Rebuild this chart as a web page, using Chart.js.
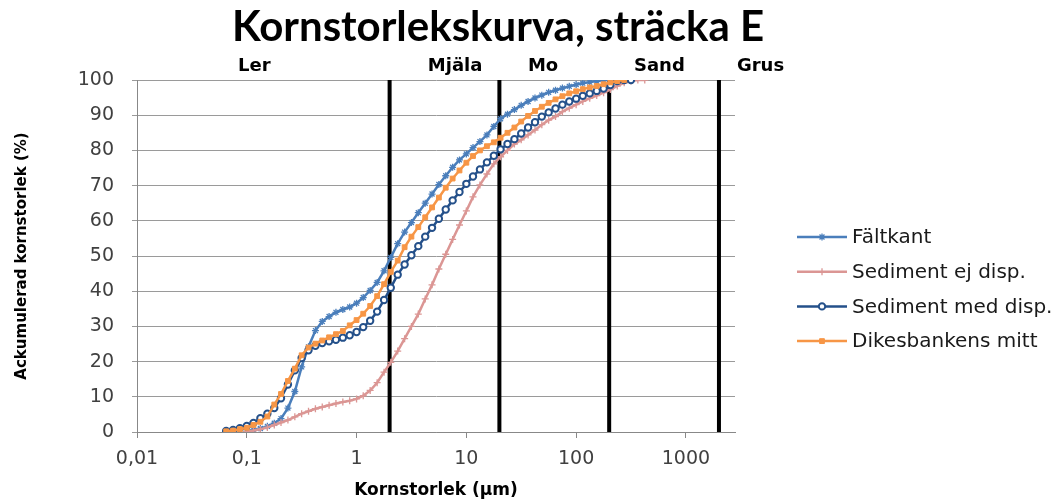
<!DOCTYPE html>
<html>
<head>
<meta charset="utf-8">
<title>Kornstorlekskurva, sträcka E</title>
<script src="https://cdn.jsdelivr.net/npm/chart.js@4.4.1/dist/chart.umd.min.js"></script>
<style>
  html, body { margin: 0; padding: 0; background: #fff; }
</style>
</head>
<body>
<canvas id="chart" width="1064" height="504"></canvas>
<script>
// Kornstorlek (µm) - gemensamma storleksklasser för alla kurvor
const sizes = [
  0.0649, 0.0750, 0.0866, 0.100, 0.115, 0.133, 0.154, 0.178, 0.205, 0.237,
  0.274, 0.316, 0.365, 0.422, 0.487, 0.562, 0.649, 0.750, 0.866, 1.00,
  1.15, 1.33, 1.54, 1.78, 2.05, 2.37, 2.74, 3.16, 3.65, 4.22,
  4.87, 5.62, 6.49, 7.50, 8.66, 10.0, 11.5, 13.3, 15.4, 17.8,
  20.5, 23.7, 27.4, 31.6, 36.5, 42.2, 48.7, 56.2, 64.9, 75.0,
  86.6, 100, 115, 133, 154, 178, 205, 237, 274, 316,
  365, 422
];

// Ackumulerad andel (%) per storleksklass, null = ingen mätpunkt
const faltkant = [
  null, null, null, 0.2, 0.6, 1.0, 1.6, 2.5, 3.8, 6.8,
  11.5, 18.5, 24.2, 28.8, 31.4, 32.8, 34.0, 34.8, 35.5, 36.6,
  38.2, 40.2, 42.5, 45.8, 49.6, 53.5, 56.8, 59.5, 62.3, 65.0,
  67.6, 70.3, 72.8, 75.2, 77.3, 79.0, 80.8, 82.5, 84.4, 86.8,
  89.0, 90.3, 91.6, 92.8, 93.9, 94.9, 95.7, 96.5, 97.1, 97.7,
  98.2, 98.7, 99.1, 99.4, 99.7, 99.9, 100, null, null, null,
  null, null
];
const sedimentEjDisp = [
  null, null, null, 0.1, 0.4, 0.8, 1.3, 2.0, 2.7, 3.4,
  4.3, 5.2, 5.9, 6.6, 7.1, 7.6, 8.1, 8.5, 8.9, 9.4,
  10.3, 11.8, 14.0, 17.0, 19.8, 23.0, 26.5, 30.0, 33.5, 37.8,
  41.8, 46.3, 50.5, 54.7, 58.8, 62.8, 66.8, 70.2, 73.3, 76.2,
  78.2, 80.0, 81.8, 83.0, 84.4, 85.8, 87.3, 88.6, 89.6, 91.0,
  92.0, 93.0, 93.9, 94.8, 95.6, 96.4, 97.3, 98.3, 99.2, 99.7,
  100, 100
];
const sedimentMedDisp = [
  0.3, 0.6, 1.1, 1.7, 2.6, 3.9, 5.2, 6.8, 9.6, 13.5,
  17.5, 21.0, 23.2, 24.5, 25.3, 25.8, 26.2, 26.8, 27.5, 28.4,
  29.8, 31.6, 34.2, 37.5, 41.0, 44.7, 47.6, 50.2, 52.8, 55.5,
  58.0, 60.6, 63.2, 65.8, 68.2, 70.5, 72.6, 74.6, 76.6, 78.5,
  80.3, 81.8, 83.2, 84.8, 86.5, 88.0, 89.6, 90.8, 91.9, 93.0,
  93.9, 94.7, 95.5, 96.2, 96.9, 97.6, 98.6, 99.7, 100, 100,
  null, null
];
const dikesbankensMitt = [
  0.2, 0.4, 0.8, 1.2, 2.0, 2.9, 4.4, 7.8, 10.8, 14.5,
  18.0, 21.8, 24.0, 25.1, 26.0, 26.9, 27.8, 28.7, 30.3, 31.8,
  33.6, 35.8, 38.6, 42.0, 45.5, 48.7, 52.5, 55.5, 58.2, 61.0,
  63.8, 66.6, 69.4, 72.0, 74.3, 76.5, 78.4, 80.0, 81.2, 82.3,
  83.6, 85.0, 86.5, 88.2, 89.8, 91.2, 92.4, 93.5, 94.5, 95.4,
  96.2, 96.8, 97.4, 97.9, 98.3, 98.8, 99.3, 99.7, 100, null,
  null, null
];

// Gränser mellan fraktionerna (µm) och fraktionsnamn
const boundaries = [2, 20, 200, 2000];
const zoneLabels = ['Ler', 'Mjäla', 'Mo', 'Sand', 'Grus'];
const zoneLabelAt = [0.117, 7.9, 50, 573, 4780];

// Axlar
const xTicks = [0.01, 0.1, 1, 10, 100, 1000];
const xTickLabels = ['0,01', '0,1', '1', '10', '100', '1000'];
const yMin = 0, yMax = 100, yStep = 10;

const toPoints = (vals) => sizes.map((s, i) => ({ x: s, y: vals[i] })).filter(p => p.y !== null);

const curveDatasets = [
  {
    label: 'Fältkant',
    data: toPoints(faltkant),
    borderColor: '#4A7EBB', borderWidth: 2.5,
    pointStyle: 'star', pointRadius: 3.5, pointBorderWidth: 1.3,
    pointBorderColor: '#4A7EBB', pointBackgroundColor: '#4A7EBB',
    order: 3
  },
  {
    label: 'Sediment ej disp.',
    data: toPoints(sedimentEjDisp),
    borderColor: '#DB9694', borderWidth: 2.5,
    pointStyle: 'cross', pointRadius: 3.5, pointBorderWidth: 1.3,
    pointBorderColor: '#DB9694', pointBackgroundColor: '#DB9694',
    order: 2
  },
  {
    label: 'Sediment med disp.',
    data: toPoints(sedimentMedDisp),
    borderColor: '#24508A', borderWidth: 2.5,
    pointStyle: 'circle', pointRadius: 3.2, pointBorderWidth: 2,
    pointBorderColor: '#24508A', pointBackgroundColor: '#ffffff',
    order: 1
  },
  {
    label: 'Dikesbankens mitt',
    data: toPoints(dikesbankensMitt),
    borderColor: '#F79646', borderWidth: 2.5,
    pointStyle: 'rect', pointRadius: 3.4, pointBorderWidth: 1,
    pointBorderColor: '#F79646', pointBackgroundColor: '#F79646',
    order: 0
  }
];

// Svarta vertikala fraktionsgränser
const boundaryDatasets = boundaries.map(b => ({
  label: 'gräns ' + b,
  data: [{ x: b, y: yMin }, { x: b, y: yMax }],
  borderColor: '#000', borderWidth: 4,
  pointRadius: 0, order: 10
}));

// Titel, fraktionsnamn och förklaring ritas direkt på canvasen
const extrasPlugin = {
  id: 'extras',
  afterDraw(chart) {
    const { ctx } = chart;
    const x = chart.scales.x;
    ctx.save();
    ctx.fillStyle = '#000';
    ctx.textAlign = 'center';
    ctx.textBaseline = 'alphabetic';
    ctx.font = 'bold 42px Lato, "DejaVu Sans", sans-serif';
    ctx.fillText('Kornstorlekskurva, sträcka E', 498, 41);

    ctx.font = 'bold 18px "DejaVu Sans", sans-serif';
    zoneLabels.forEach((t, i) => ctx.fillText(t, x.getPixelForValue(zoneLabelAt[i]), 71));

    // förklaring: linje + markör + text
    ctx.textAlign = 'left';
    ctx.textBaseline = 'middle';
    ctx.font = '20px "DejaVu Sans", sans-serif';
    curveDatasets.forEach((ds, i) => {
      const ly = 237 + i * 34.7;
      ctx.strokeStyle = ds.borderColor;
      ctx.lineWidth = ds.borderWidth;
      ctx.beginPath();
      ctx.moveTo(797, ly);
      ctx.lineTo(847, ly);
      ctx.stroke();
      ctx.fillStyle = ds.pointBackgroundColor;
      ctx.strokeStyle = ds.pointBorderColor;
      ctx.lineWidth = ds.pointBorderWidth;
      Chart.helpers.drawPoint(ctx, {
        pointStyle: ds.pointStyle, radius: ds.pointRadius,
        borderWidth: ds.pointBorderWidth, rotation: 0
      }, 822, ly);
      ctx.fillStyle = '#1a1a1a';
      ctx.fillText(ds.label, 852, ly + 1);
    });
    ctx.restore();
  }
};

new Chart(document.getElementById('chart'), {
  type: 'line',
  data: { datasets: [...curveDatasets, ...boundaryDatasets] },
  options: {
    responsive: false,
    animation: false,
    layout: { padding: { left: 0, right: 329, top: 80, bottom: 0 } },
    plugins: {
      legend: { display: false },
      tooltip: { enabled: false },
      title: { display: false }
    },
    scales: {
      x: {
        type: 'logarithmic',
        min: 0.01, max: 2800,
        afterBuildTicks: s => { s.ticks = xTicks.map(v => ({ value: v })); },
        afterFit: s => { s.height = 72; },
        ticks: {
          autoSkip: false, maxRotation: 0, padding: 10,
          color: '#404040',
          font: { family: '"DejaVu Sans"', size: 19 },
          callback: (v, i) => xTickLabels[i]
        },
        grid: { drawOnChartArea: false, drawTicks: true, tickLength: 6, color: '#888' },
        border: { color: '#888', width: 1 },
        title: {
          display: true, text: 'Kornstorlek (µm)', color: '#000',
          font: { family: '"DejaVu Sans"', size: 17, weight: 'bold' },
          padding: { top: 0, bottom: 3 }
        }
      },
      y: {
        min: yMin, max: yMax,
        afterFit: s => { s.width = 137; },
        ticks: {
          stepSize: yStep, padding: 18,
          color: '#404040',
          font: { family: '"DejaVu Sans"', size: 19 }
        },
        grid: { color: '#9a9a9a', tickLength: 5 },
        border: { color: '#888', width: 1 },
        title: {
          display: true, text: 'Ackumulerad kornstorlek (%)', color: '#000',
          font: { family: '"DejaVu Sans"', size: 15, weight: 'bold' },
          padding: { top: 13, bottom: 0 }
        }
      }
    }
  },
  plugins: [extrasPlugin]
});
</script>
</body>
</html>
